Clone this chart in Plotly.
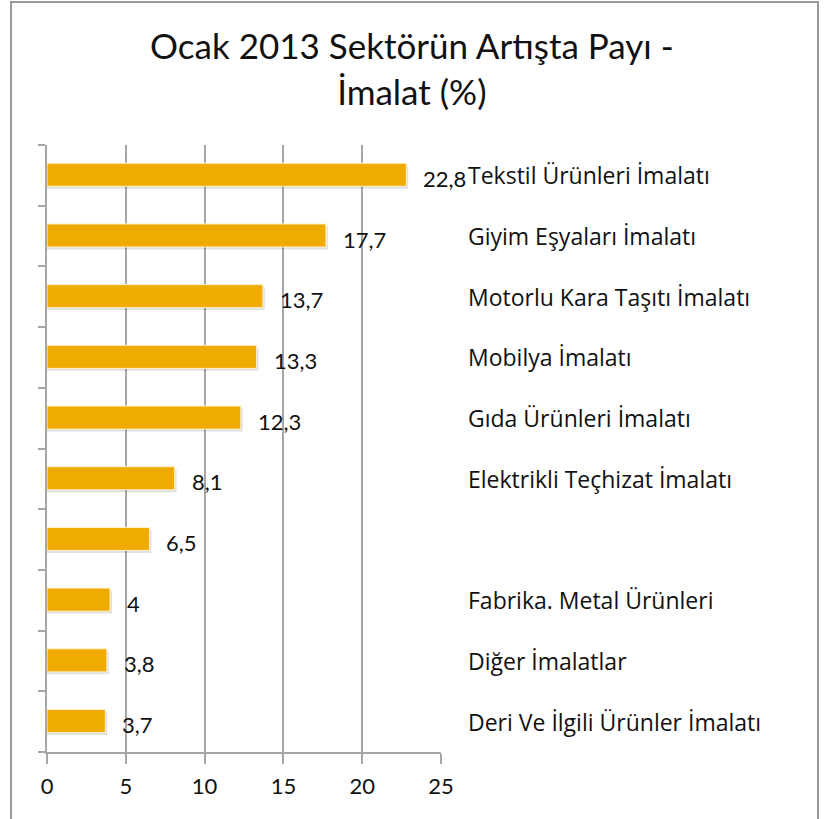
import plotly.graph_objects as go

categories = [
    "Tekstil Ürünleri İmalatı",
    "Giyim Eşyaları İmalatı",
    "Motorlu Kara Taşıtı İmalatı",
    "Mobilya İmalatı",
    "Gıda Ürünleri İmalatı",
    "Elektrikli Teçhizat İmalatı",
    "",
    "Fabrika. Metal Ürünleri",
    "Diğer İmalatlar",
    "Deri Ve İlgili Ürünler İmalatı",
]
values = [22.8, 17.7, 13.7, 13.3, 12.3, 8.1, 6.5, 4, 3.8, 3.7]
value_labels = ["22,8", "17,7", "13,7", "13,3", "12,3", "8,1", "6,5", "4", "3,8", "3,7"]
x_ticks = [0, 5, 10, 15, 20, 25]
title_text = "Ocak 2013 Sektörün Artışta Payı -<br>İmalat (%)"

positions = list(range(len(values)))

W, H = 832, 819
ML, MR, MT, MB = 47, 391, 145, 67
PW = W - ML - MR
PH = H - MT - MB

fig = go.Figure()

# shadow
fig.add_trace(go.Bar(
    y=positions, x=[v + 0.12 for v in values], orientation="h",
    width=0.38, offset=-0.16,
    marker=dict(color="rgba(0,0,0,0.12)", line=dict(width=0)),
    hoverinfo="skip", showlegend=False,
))
# bars
fig.add_trace(go.Bar(
    y=positions, x=values, orientation="h",
    width=0.38, offset=-0.2,
    marker=dict(color="#F0AB00", line=dict(color="#FFF3D0", width=1)),
    showlegend=False,
))

# value labels
for p, v, t in zip(positions, values, value_labels):
    fig.add_annotation(x=v, y=p, text=t, xref="x", yref="y",
                       xanchor="left", yanchor="middle", showarrow=False,
                       xshift=15, yshift=-3,
                       font=dict(family="Lato, sans-serif", size=22, color="#111111"))

# category labels on the right
for p, c in zip(positions, categories):
    if c:
        fig.add_annotation(x=(466 - ML) / PW, y=p, xref="paper", yref="y",
                           text=c, xanchor="left", yanchor="middle",
                           showarrow=False,
                           font=dict(family="Open Sans, sans-serif", size=23, color="#111111"))

# title
fig.add_annotation(x=(412 - ML) / PW, y=1 + (MT - 22) / PH, xref="paper", yref="paper",
                   text=title_text, xanchor="center", yanchor="top", showarrow=False,
                   align="center",
                   font=dict(family="Lato, sans-serif", size=35, color="#111111"))

# outer border
fig.add_shape(type="rect", xref="paper", yref="paper",
              x0=(11 - ML) / PW, x1=(818 - ML) / PW,
              y0=-(MB + 20) / PH, y1=1 + (MT - 2) / PH,
              line=dict(color="#999999", width=2), layer="below")

fig.update_layout(
    width=W, height=H,
    margin=dict(l=ML, r=MR, t=MT, b=MB),
    paper_bgcolor="white", plot_bgcolor="white",
    barmode="overlay",
    xaxis=dict(range=[0, 25], tickvals=x_ticks, ticktext=[str(t) for t in x_ticks],
               showgrid=True, gridcolor="#A6A6A6", gridwidth=1.5,
               showline=True, linecolor="#A6A6A6", linewidth=1.5,
               ticks="outside", ticklen=10, tickcolor="#A6A6A6", tickwidth=1.5,
               ticklabelstandoff=4,
               tickfont=dict(family="Lato, sans-serif", size=22, color="#111111"),
               zeroline=False, fixedrange=True),
    yaxis=dict(range=[9.5, -0.5], tickvals=[i - 0.5 for i in range(11)],
               showticklabels=False, showgrid=False,
               showline=True, linecolor="#A6A6A6", linewidth=1.5,
               ticks="outside", ticklen=7, tickcolor="#A6A6A6", tickwidth=1.5,
               zeroline=False, fixedrange=True),
)

fig.write_html("out.html", config={"displayModeBar": False},
               post_script="document.body.style.margin='0';")
